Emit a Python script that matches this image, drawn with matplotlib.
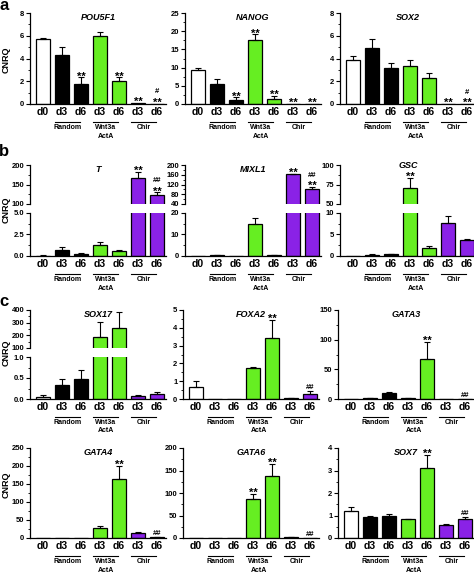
import numpy as np
import matplotlib
matplotlib.use('Agg')
import matplotlib.pyplot as plt
import matplotlib.transforms as mtransforms
from matplotlib.ticker import AutoMinorLocator, MultipleLocator

plt.rcParams['font.family'] = ['Liberation Sans', 'DejaVu Sans']

W, H = 474, 575

days = ['d0', 'd3', 'd6', 'd3', 'd6', 'd3', 'd6']
groups = ['Random', 'Wnt3a\nActA', 'Chir']
group_bars = [(1, 2), (3, 4), (5, 6)]
bar_colors = ['white', 'black', 'black', '#66ee22', '#66ee22', '#8a22e6', '#8a22e6']

# row a
pou5f1 = [5.7, 4.35, 1.8, 5.95, 2.05, 0.08, 0.02]
pou5f1_err = [0.1, 0.7, 0.55, 0.4, 0.3, 0.0, 0.0]
pou5f1_stars = ['', '', '**', '', '**', '**', '**']
pou5f1_hash = ['', '', '', '', '', '', '#']

nanog = [9.4, 5.5, 1.2, 17.6, 1.3, 0.05, 0.03]
nanog_err = [0.4, 1.5, 0.6, 1.5, 0.9, 0.0, 0.0]
nanog_stars = ['', '', '**', '**', '**', '**', '**']
nanog_hash = ['', '', '', '', '', '', '']

sox2 = [3.9, 4.95, 3.15, 3.35, 2.3, 0.0, 0.0]
sox2_err = [0.35, 0.75, 0.45, 0.5, 0.45, 0.0, 0.0]
sox2_stars = ['', '', '', '', '', '**', '**']
sox2_hash = ['', '', '', '', '', '', '#']

# row b
t_gene = [0.05, 0.7, 0.25, 1.25, 0.55, 166, 122]
t_err = [0.05, 0.3, 0.1, 0.4, 0.1, 17, 8]
t_stars = ['', '', '', '', '', '**', '**']
t_hash = ['', '', '', '', '', '', '##']

mixl1 = [0.1, 0.3, 0.15, 15.0, 0.3, 163, 101]
mixl1_err = [0.0, 0.2, 0.0, 2.5, 0.2, 1, 8]
mixl1_stars = ['', '', '', '', '', '**', '**']
mixl1_hash = ['', '', '', '', '', '', '##']

gsc = [0.1, 0.3, 0.45, 71, 1.8, 7.6, 3.7]
gsc_err = [0.0, 0.1, 0.1, 12, 0.5, 1.8, 0.2]
gsc_stars = ['', '', '', '**', '', '', '']
gsc_hash = ['', '', '', '', '', '', '']

# row c
sox17 = [0.05, 0.33, 0.47, 185, 258, 0.08, 0.13]
sox17_err = [0.04, 0.14, 0.23, 120, 125, 0.02, 0.03]
sox17_stars = ['', '', '', '', '', '', '']
sox17_hash = ['', '', '', '', '', '', '']

foxa2 = [0.68, 0.0, 0.0, 1.75, 3.4, 0.03, 0.27]
foxa2_err = [0.35, 0.0, 0.0, 0.02, 1.05, 0.02, 0.18]
foxa2_stars = ['', '', '', '', '**', '', '']
foxa2_hash = ['', '', '', '', '', '', '##']

gata3 = [0.0, 1.0, 10.5, 1.0, 67, 0.2, 0.1]
gata3_err = [0.0, 0.3, 1.5, 0.2, 29, 0.0, 0.0]
gata3_stars = ['', '', '', '', '**', '', '']
gata3_hash = ['', '', '', '', '', '', '##']

# row d
gata4 = [0.0, 0.5, 0.3, 28, 165, 14, 1.5]
gata4_err = [0.0, 0.0, 0.0, 6, 35, 4, 0.5]
gata4_stars = ['', '', '', '', '**', '', '']
gata4_hash = ['', '', '', '', '', '', '##']

gata6 = [0.0, 0.5, 0.2, 86, 138, 1.5, 0.5]
gata6_err = [0.0, 0.0, 0.0, 12, 26, 0.3, 0.0]
gata6_stars = ['', '', '', '**', '**', '', '']
gata6_hash = ['', '', '', '', '', '', '##']

sox7 = [1.22, 0.92, 0.97, 0.85, 3.1, 0.6, 0.83]
sox7_err = [0.15, 0.08, 0.1, 0.01, 0.6, 0.02, 0.12]
sox7_stars = ['', '', '', '', '**', '', '']
sox7_hash = ['', '', '', '', '', '', '##']

x = np.arange(len(days))

fig = plt.figure(figsize=(W / 100, H / 100), dpi=100)


def add_axes(px, py, pw, ph):
    return fig.add_axes([px / W, 1 - (py + ph) / H, pw / W, ph / H])


def style(ax, ylim, step, bottom=True):
    ax.set_xlim(-0.68, 6.47)
    ax.set_ylim(ylim)
    ax.yaxis.set_major_locator(MultipleLocator(step))
    ax.yaxis.set_minor_locator(AutoMinorLocator(2))
    ax.spines['top'].set_visible(False)
    ax.spines['right'].set_visible(False)
    for s in ['left', 'bottom']:
        ax.spines[s].set_linewidth(0.9)
    ax.tick_params(axis='y', which='major', length=3, width=0.8, pad=1, labelsize=5.5)
    ax.tick_params(axis='y', which='minor', length=1.5, width=0.6)
    for lab in ax.get_yticklabels():
        lab.set_fontweight('bold')
    if bottom:
        ax.set_xticks(x, days)
        ax.tick_params(axis='x', length=0, pad=2.5, labelsize=7.5)
        for lab in ax.get_xticklabels():
            lab.set_fontweight('bold')
        # group lines + labels below the tick labels
        for (a, b), g in zip(group_bars, groups):
            c = (a + b) / 2 - 0.2
            tr = mtransforms.blended_transform_factory(ax.transData, ax.transAxes) + \
                mtransforms.ScaledTranslation(0, -0.18, fig.dpi_scale_trans)
            ax.plot([c - 0.65, c + 0.65], [0, 0], color='k', lw=0.8,
                    transform=tr, clip_on=False)
            tr2 = mtransforms.blended_transform_factory(ax.transData, ax.transAxes) + \
                mtransforms.ScaledTranslation(0, -0.2, fig.dpi_scale_trans)
            ax.text(c, 0, g, transform=tr2, ha='center', va='top', fontsize=5,
                    fontweight='bold', linespacing=1.3)
    else:
        ax.spines['bottom'].set_visible(False)
        ax.set_xticks([])


def draw(ax, vals, errs, stars, hashes, lo=None, hi=None):
    vals = np.array(vals, dtype=float)
    errs = np.array(errs, dtype=float)
    ax.bar(x, vals, width=0.76, color=bar_colors, edgecolor='k', linewidth=0.9)
    m = errs > 0
    ax.errorbar(x[m], vals[m], yerr=[np.zeros(m.sum()), errs[m]], fmt='none',
                ecolor='k', elinewidth=0.8, capsize=2.5, capthick=0.8)
    for i in range(len(vals)):
        top = vals[i] + errs[i]
        if lo is not None and not (lo <= top <= hi):
            continue
        if stars[i]:
            ax.annotate(stars[i], xy=(i, top), xytext=(0, -1.5), textcoords='offset points',
                        ha='center', va='baseline', fontsize=8, fontweight='bold')
        if hashes[i]:
            off = 7.5 if stars[i] else 1.5
            ax.annotate(hashes[i], xy=(i, top), xytext=(0, off), textcoords='offset points',
                        ha='center', va='baseline', fontsize=5.5, fontweight='bold')


def title(ax, name, dy=-3):
    ax.annotate(name, xy=(0.5, 1), xycoords='axes fraction', xytext=(0, dy),
                textcoords='offset points', ha='center', va='center', fontsize=6.5,
                fontweight='bold', fontstyle='italic')


def simple_panel(px, py, ph, name, vals, errs, stars, hashes, ylim, step):
    ax = add_axes(px, py, 136, ph)
    style(ax, ylim, step)
    draw(ax, vals, errs, stars, hashes)
    title(ax, name)
    return ax


def broken_panel(px, py_top, h_top, py_low, h_low, name, vals, errs, stars, hashes,
                 low_lim, low_step, high_lim, high_step, dy=-3):
    axt = add_axes(px, py_top, 136, h_top)
    axl = add_axes(px, py_low, 136, h_low)
    style(axt, high_lim, high_step, bottom=False)
    style(axl, low_lim, low_step)
    draw(axt, vals, errs, stars, hashes, lo=high_lim[0], hi=high_lim[1])
    draw(axl, vals, errs, stars, hashes, lo=low_lim[0], hi=low_lim[1])
    title(axt, name, dy)


cols = [30, 185, 340]

# row a
simple_panel(cols[0], 13, 91, 'POU5F1', pou5f1, pou5f1_err, pou5f1_stars, pou5f1_hash, (0, 8), 2)
simple_panel(cols[1], 13, 91, 'NANOG', nanog, nanog_err, nanog_stars, nanog_hash, (0, 25), 5)
simple_panel(cols[2], 13, 91, 'SOX2', sox2, sox2_err, sox2_stars, sox2_hash, (0, 8), 2)

# row b
broken_panel(cols[0], 165, 39, 213, 43, 'T', t_gene, t_err, t_stars, t_hash,
             (0, 5), 2.5, (100, 200), 50)
broken_panel(cols[1], 165, 39, 213, 43, 'MIXL1', mixl1, mixl1_err, mixl1_stars, mixl1_hash,
             (0, 20), 10, (40, 200), 40)
broken_panel(cols[2], 165, 39, 213, 43, 'GSC', gsc, gsc_err, gsc_stars, gsc_hash,
             (0, 10), 5, (50, 100), 25, dy=-0.5)

# row c
broken_panel(cols[0], 310, 38, 357, 42, 'SOX17', sox17, sox17_err, sox17_stars, sox17_hash,
             (0, 1), 0.5, (100, 400), 100)
simple_panel(cols[1] - 2, 310, 89, 'FOXA2', foxa2, foxa2_err, foxa2_stars, foxa2_hash, (0, 5), 1)
simple_panel(cols[2] - 2, 310, 89, 'GATA3', gata3, gata3_err, gata3_stars, gata3_hash, (0, 150), 50)

# row d
simple_panel(cols[0], 448, 90, 'GATA4', gata4, gata4_err, gata4_stars, gata4_hash, (0, 250), 50)
simple_panel(cols[1] - 2, 448, 90, 'GATA6', gata6, gata6_err, gata6_stars, gata6_hash, (0, 200), 50)
simple_panel(cols[2] - 2, 448, 90, 'SOX7', sox7, sox7_err, sox7_stars, sox7_hash, (0, 4), 1)

# y labels and panel letters
for yc in [60, 210, 353, 485]:
    fig.text(6 / W, 1 - yc / H, 'CNRQ', rotation=90, ha='center', va='center',
             fontsize=6.5, fontweight='bold')
for letter, yc in [('a', 6), ('b', 152), ('c', 302)]:
    fig.text(4 / W, 1 - yc / H, letter, ha='center', va='center', fontsize=12,
             fontweight='bold')

fig.savefig('out.png', dpi=100)
